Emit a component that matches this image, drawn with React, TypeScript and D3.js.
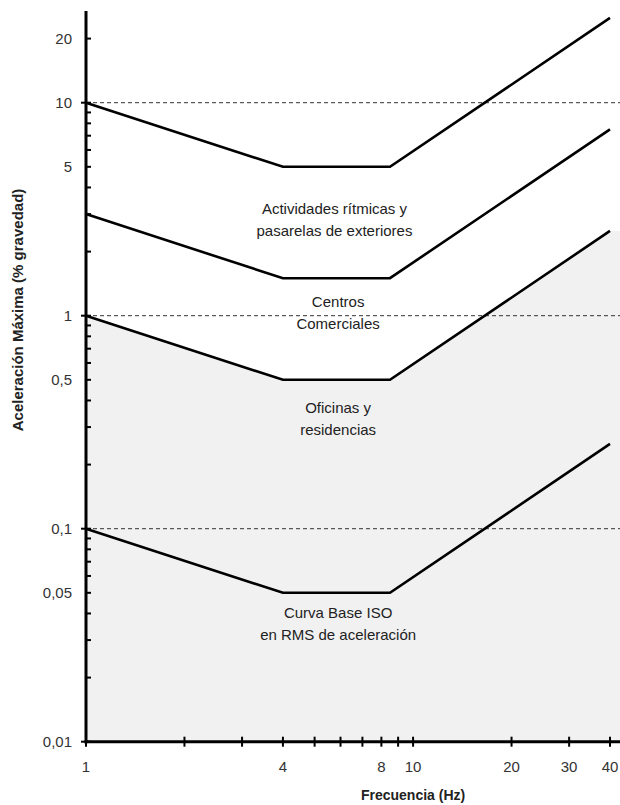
import React from "react";
import * as d3 from "d3";

const freq = [1, 4, 8.5, 40];
const rhythmic = [10, 5, 5, 25];
const shopping = [3, 1.5, 1.5, 7.5];
const offices = [1, 0.5, 0.5, 2.5];
const isoBase = [0.1, 0.05, 0.05, 0.25];

const xTickVals = [1, 2, 3, 4, 5, 6, 7, 8, 9, 10, 20, 30, 40];
const xTickLabels = ["1", "4", "8", "10", "20", "30", "40"];
const xTickLabelVals = [1, 4, 8, 10, 20, 30, 40];
const yTickVals = [
  0.01, 0.02, 0.03, 0.04, 0.05, 0.06, 0.07, 0.08, 0.09,
  0.1, 0.2, 0.3, 0.4, 0.5, 0.6, 0.7, 0.8, 0.9,
  1, 2, 3, 4, 5, 6, 7, 8, 9, 10, 20,
];
const yTickLabelVals = [0.01, 0.05, 0.1, 0.5, 1, 5, 10, 20];
const yTickLabels = ["0,01", "0,05", "0,1", "0,5", "1", "5", "10", "20"];
const gridVals = [10, 1, 0.1];

const W = 620;
const H = 805;
const FONT = "'Liberation Sans', Arial, sans-serif";

export default function App() {
  const x = d3.scaleLog().domain([1, 40]).range([86, 610]);
  const y = d3.scaleLog().domain([0.01, 10]).range([741.7, 102.7]);
  const x0 = 86;
  const y0 = 741.7;
  const yTop = 11;
  const xRight = 620;

  const series = [rhythmic, shopping, offices, isoBase];
  const line = d3
    .line<[number, number]>()
    .x((d) => x(d[0]))
    .y((d) => y(d[1]));

  const areaPts: [number, number][] = freq.map((f, i) => [f, offices[i]]);
  areaPts.push([x.invert(xRight), offices[offices.length - 1]]);
  const area = d3
    .area<[number, number]>()
    .x((d) => x(d[0]))
    .y0(y0)
    .y1((d) => y(d[1]));

  const labels = [
    { lines: ["Actividades rítmicas y", "pasarelas de exteriores"], f: 5.75, v: 3.0 },
    { lines: ["Centros", "Comerciales"], f: 5.9, v: 1.1 },
    { lines: ["Oficinas y", "residencias"], f: 5.9, v: 0.35 },
    { lines: ["Curva Base ISO", "en RMS de aceleración"], f: 5.9, v: 0.038 },
  ];

  return (
    <svg
      width={W}
      height={H}
      style={{ position: "absolute", left: 0, top: 0, background: "#fff" }}
    >
      <path d={area(areaPts) || ""} fill="#f2f1f2" />
      {gridVals.map((v) => (
        <line
          key={v}
          x1={x0}
          x2={xRight}
          y1={y(v)}
          y2={y(v)}
          stroke="#333"
          strokeWidth={1}
          strokeDasharray="4,3"
        />
      ))}
      {series.map((s, i) => (
        <path
          key={i}
          d={line(freq.map((f, j) => [f, s[j]] as [number, number])) || ""}
          fill="none"
          stroke="#000"
          strokeWidth={2.6}
        />
      ))}
      <line x1={x0} x2={x0} y1={yTop} y2={y0 + 1.5} stroke="#000" strokeWidth={3} />
      <line x1={x0 - 1.5} x2={xRight} y1={y0} y2={y0} stroke="#000" strokeWidth={3} />
      {yTickVals.map((v) => (
        <line
          key={"yt" + v}
          x1={v === 10 || v === 1 || v === 0.1 || v === 0.01 ? x0 - 5 : x0}
          x2={x0 + 5}
          y1={y(v)}
          y2={y(v)}
          stroke="#000"
          strokeWidth={2}
        />
      ))}
      {yTickLabelVals.map((v, i) => (
        <text
          key={"yl" + v}
          x={72}
          y={y(v) + 5.5}
          textAnchor="end"
          fontFamily={FONT}
          fontSize={15}
          fill="#333"
        >
          {yTickLabels[i]}
        </text>
      ))}
      {xTickVals.map((v) => (
        <line
          key={"xt" + v}
          x1={x(v)}
          x2={x(v)}
          y1={y0 - 5}
          y2={y0 + 5}
          stroke="#000"
          strokeWidth={2}
        />
      ))}
      {xTickLabelVals.map((v, i) => (
        <text
          key={"xl" + v}
          x={x(v)}
          y={772}
          textAnchor="middle"
          fontFamily={FONT}
          fontSize={15}
          fill="#333"
        >
          {xTickLabels[i]}
        </text>
      ))}
      <text
        x={x(10)}
        y={800}
        textAnchor="middle"
        fontFamily={FONT}
        fontSize={14}
        fontWeight="bold"
        fill="#222"
      >
        Frecuencia (Hz)
      </text>
      <text
        transform={`translate(23,310) rotate(-90)`}
        textAnchor="middle"
        fontFamily={FONT}
        fontSize={15}
        fontWeight="bold"
        fill="#222"
      >
        Aceleración Máxima (% gravedad)
      </text>
      {labels.map((l, i) => (
        <text
          key={"lab" + i}
          x={x(l.f)}
          y={y(l.v)}
          textAnchor="middle"
          fontFamily={FONT}
          fontSize={15}
          fill="#222"
        >
          {l.lines.map((t, k) => (
            <tspan key={k} x={x(l.f)} dy={k === 0 ? 0 : 22}>
              {t}
            </tspan>
          ))}
        </text>
      ))}
    </svg>
  );
}
